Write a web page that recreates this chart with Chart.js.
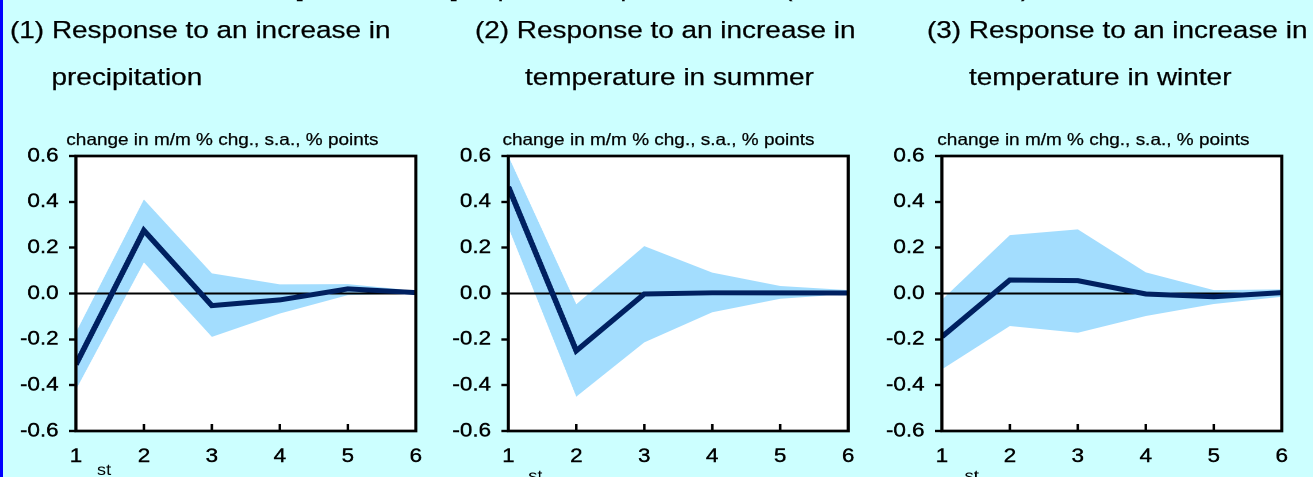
<!DOCTYPE html>
<html><head><meta charset="utf-8">
<script src="https://cdn.jsdelivr.net/npm/chart.js@4"></script>
<style>
html,body{margin:0;padding:0;background:#CCFFFF;width:1313px;height:477px;overflow:hidden;font-family:"Liberation Sans",Arial,sans-serif;}
#edge{position:absolute;left:0;top:0;width:3px;height:477px;background:#0000FF;z-index:5;}
#stage{position:absolute;left:0;top:0;width:1142px;height:477px;transform:scaleX(1.15);transform-origin:0 0;}
.t{position:absolute;white-space:nowrap;color:#000;-webkit-text-stroke:0.25px #000;}
canvas{position:absolute;top:0;}
</style>
</head><body>
<div id="edge"></div>
<div id="stage">
  <canvas id="c1" width="375" height="477"></canvas>
  <canvas id="c2" width="375" height="477"></canvas>
  <canvas id="c3" width="375" height="477"></canvas>
</div>
<script>
// ---- data ----
const categories = [1, 2, 3, 4, 5, 6];
const xTickLabels = ["1", "2", "3", "4", "5", "6"];
const yTicks = [-0.6, -0.4, -0.2, 0.0, 0.2, 0.4, 0.6];

const precipMean  = [-0.31, 0.275, -0.053, -0.028, 0.020, 0.004];
const precipUpper = [-0.17, 0.410, 0.088, 0.040, 0.041, 0.012];
const precipLower = [-0.42, 0.136, -0.189, -0.087, -0.007, -0.002];

const summerMean  = [0.466, -0.250, -0.002, 0.003, 0.003, 0.002];
const summerUpper = [0.600, -0.047, 0.207, 0.091, 0.033, 0.015];
const summerLower = [0.289, -0.450, -0.213, -0.082, -0.023, -0.002];

const winterMean  = [-0.189, 0.059, 0.056, -0.002, -0.014, 0.004];
const winterUpper = [-0.028, 0.255, 0.280, 0.092, 0.015, 0.018];
const winterLower = [-0.331, -0.142, -0.171, -0.098, -0.046, -0.014];

const titleLine1 = ["(1) Response to an increase in", "(2) Response to an increase in", "(3) Response to an increase in"];
const titleLine2 = ["precipitation", "temperature in summer", "temperature in winter"];
const axisNote = "change in m/m % chg., s.a., % points";
const ordinalSuffix = "st";

// ---- layout (unscaled coordinates; stage is stretched 1.15x horizontally) ----
const FAM = '"Liberation Sans", Arial, sans-serif';
Chart.defaults.font.family = FAM;
const plotLefts = [66.1, 441.7, 819.1];
const t1Left = [8.7, 413, 806];
const t2Left = [44.8, 456.5, 842.6];
const noteLeft = [57.7, 436.9, 815.1];
const stBaseline = [475, 481, 481];
const stOffset = [24.5, 23.5, 26];

const stage = document.getElementById('stage');
function addText(txt, left, top, size) {
  const d = document.createElement('div');
  d.className = 't';
  d.textContent = txt;
  d.style.left = left + 'px';
  d.style.top = top + 'px';
  d.style.fontSize = size + 'px';
  d.style.lineHeight = size + 'px';
  stage.appendChild(d);
}
// cut-off heading at very top (only descenders visible)
addText("[", 256.5, -24, 24);
addText("Chart 10]", 300, -24, 24);
addText("Impulse Responses to", 406, -24, 24);
addText("(Estimation Results)", 681, -24, 24);
for (let i = 0; i < 3; i++) {
  addText(titleLine1[i], t1Left[i], 17.5, 24.3);
  addText(titleLine2[i], t2Left[i], 64.5, 24.3);
  addText(axisNote, noteLeft[i], 131, 16.5);
}

function fmt(v) { return Math.abs(v) < 1e-9 ? "0.0" : v.toFixed(1); }

const deco = {
  id: 'deco',
  beforeDraw(chart) {
    const {ctx, chartArea: a} = chart;
    ctx.save();
    ctx.fillStyle = '#FFFFFF';
    ctx.fillRect(a.left, a.top, a.right - a.left, a.bottom - a.top);
    ctx.restore();
  },
  beforeDatasetDraw(chart, args) {
    if (args.index !== 0) return;
    const {ctx, chartArea: a} = chart;
    const y = chart.scales.y.getPixelForValue(0);
    ctx.save();
    ctx.strokeStyle = '#000';
    ctx.lineWidth = 2;
    ctx.beginPath(); ctx.moveTo(a.left, y); ctx.lineTo(a.right, y); ctx.stroke();
    ctx.restore();
  },
  afterDatasetsDraw(chart) {
    const {ctx, chartArea: a} = chart;
    const xs = chart.scales.x;
    const idx = chart.options.plugins.deco.idx;
    ctx.save();
    ctx.strokeStyle = '#000';
    ctx.lineWidth = 2.7;
    ctx.strokeRect(a.left, a.top, a.right - a.left, a.bottom - a.top);
    ctx.lineWidth = 2.2;
    for (const v of categories.slice(1, -1)) {
      const x = xs.getPixelForValue(v);
      ctx.beginPath(); ctx.moveTo(x, a.bottom); ctx.lineTo(x, a.bottom - 7); ctx.stroke();
    }
    ctx.fillStyle = '#000';
    ctx.font = '16px ' + FAM;
    ctx.textAlign = 'center';
    ctx.textBaseline = 'alphabetic';
    ctx.fillText(ordinalSuffix, xs.getPixelForValue(categories[0]) + stOffset[idx], stBaseline[idx]);
    ctx.restore();
  }
};

function makePanel(id, idx, mean, upper, lower) {
  const cv = document.getElementById(id);
  cv.style.left = (plotLefts[idx] - 60) + 'px';
  new Chart(cv, {
    type: 'line',
    data: {
      datasets: [
        {data: categories.map((c, i) => ({x: c, y: mean[i]})), borderColor: '#002060', borderWidth: 5, borderJoinStyle: 'miter', fill: false, pointRadius: 0},
        {data: categories.map((c, i) => ({x: c, y: upper[i]})), borderWidth: 0, borderColor: 'rgba(0,0,0,0)', backgroundColor: '#A3DDFE', fill: '+1', pointRadius: 0},
        {data: categories.map((c, i) => ({x: c, y: lower[i]})), borderWidth: 0, borderColor: 'rgba(0,0,0,0)', fill: false, pointRadius: 0}
      ]
    },
    options: {
      responsive: false, animation: false, devicePixelRatio: 2,
      layout: {padding: {top: 156, right: 15, left: 0, bottom: 0}},
      plugins: {legend: {display: false}, tooltip: {enabled: false}, deco: {idx: idx}},
      elements: {line: {tension: 0}},
      scales: {
        x: {
          type: 'linear', min: 1, max: 6, offset: false,
          afterFit(s) { s.height = 46; },
          afterBuildTicks(s) { s.ticks = categories.map(v => ({value: v})); },
          ticks: {autoSkip: false, maxRotation: 0, padding: 14, color: '#000', font: {size: 19.5},
                  textStrokeColor: '#000', textStrokeWidth: 0.4,
                  callback: (v) => xTickLabels[categories.indexOf(v)]},
          grid: {display: false, drawTicks: false},
          border: {display: false}
        },
        y: {
          min: -0.6, max: 0.6,
          afterFit(s) { s.width = 60; },
          afterBuildTicks(s) { s.ticks = yTicks.map(v => ({value: v})); },
          ticks: {padding: 9, color: '#000', font: {size: 19.5}, textStrokeColor: '#000', textStrokeWidth: 0.4,
                  callback: (v) => fmt(v)},
          grid: {drawOnChartArea: false, drawTicks: true, tickLength: 6, tickColor: '#000', tickWidth: 2.4, color: 'rgba(0,0,0,0)'},
          border: {display: false}
        }
      }
    },
    plugins: [deco]
  });
}
makePanel('c1', 0, precipMean, precipUpper, precipLower);
makePanel('c2', 1, summerMean, summerUpper, summerLower);
makePanel('c3', 2, winterMean, winterUpper, winterLower);
</script>
</body></html>
